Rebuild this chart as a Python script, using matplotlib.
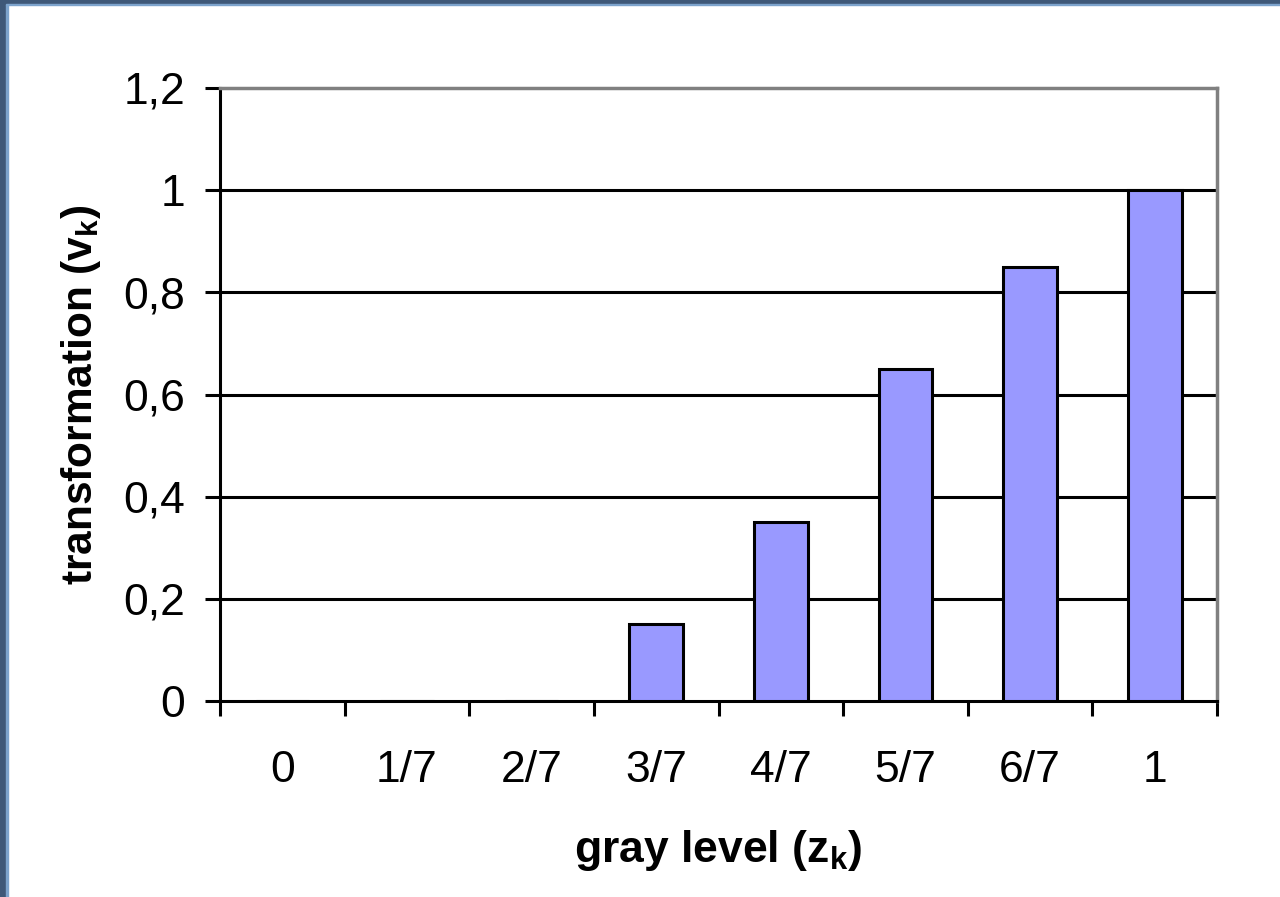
import numpy as np
import matplotlib.pyplot as plt
from matplotlib.patches import Rectangle

plt.rcParams['font.family'] = ['Liberation Sans', 'DejaVu Sans']
plt.rcParams['mathtext.fontset'] = 'custom'
plt.rcParams['mathtext.rm'] = 'Liberation Sans'
plt.rcParams['mathtext.bf'] = 'Liberation Sans:bold'

levels = ['0', '1/7', '2/7', '3/7', '4/7', '5/7', '6/7', '1']
values = [0, 0, 0, 0.15, 0.35, 0.65, 0.85, 1.0]
y_ticks = [0, 0.2, 0.4, 0.6, 0.8, 1.0, 1.2]
y_labels = ['0', '0,2', '0,4', '0,6', '0,8', '1', '1,2']

fig = plt.figure(figsize=(12.8, 8.97), dpi=100)
# slide frame
fig.patches.append(Rectangle((0, 0), 0.0047, 1, transform=fig.transFigure, color='#3f5878', zorder=0))
fig.patches.append(Rectangle((0.0047, 0), 0.0012, 0.9955, transform=fig.transFigure, color='#7da3cc', zorder=0))
fig.patches.append(Rectangle((0, 0.9955), 1, 0.0045, transform=fig.transFigure, color='#3f5878', zorder=0))
fig.patches.append(Rectangle((0.0047, 0.9942), 1, 0.0013, transform=fig.transFigure, color='#7da3cc', zorder=0))

ax = fig.add_axes([0.1719, 0.2185, 0.7789, 0.6834])
x = np.arange(len(levels))
ax.bar(x, values, width=0.43, color='#9999ff', edgecolor='black', linewidth=2.2, zorder=3)

ax.set_xlim(-0.5, len(levels) - 0.5)
ax.set_ylim(0, 1.2)
ax.set_yticks(y_ticks)
ax.set_yticklabels(y_labels)
for yv in y_ticks[1:-1]:
    ax.axhline(yv, color='black', lw=2.2, zorder=1)

ax.set_xticks(x)
ax.set_xticklabels(levels)
ax.set_xticks(np.arange(-0.5, len(levels)), minor=True)
ax.tick_params(axis='x', which='major', length=0, pad=35, labelsize=32)
ax.tick_params(axis='x', which='minor', length=11, width=2.2, direction='out')
ax.tick_params(axis='y', length=11, width=2.2, direction='out', pad=14, labelsize=32)

for s in ['left', 'bottom']:
    ax.spines[s].set_linewidth(2.2)
    ax.spines[s].set_color('black')
for s in ['top', 'right']:
    ax.spines[s].set_linewidth(2.5)
    ax.spines[s].set_color('#808080')

ax.set_xlabel(r'gray level (z$_{\mathbf{k}}$)', fontsize=32, fontweight='bold', labelpad=27)
ax.set_ylabel(r'transformation (v$_{\mathbf{k}}$)', fontsize=30.5, fontweight='bold', labelpad=15)

fig.savefig('out.png', dpi=100)
